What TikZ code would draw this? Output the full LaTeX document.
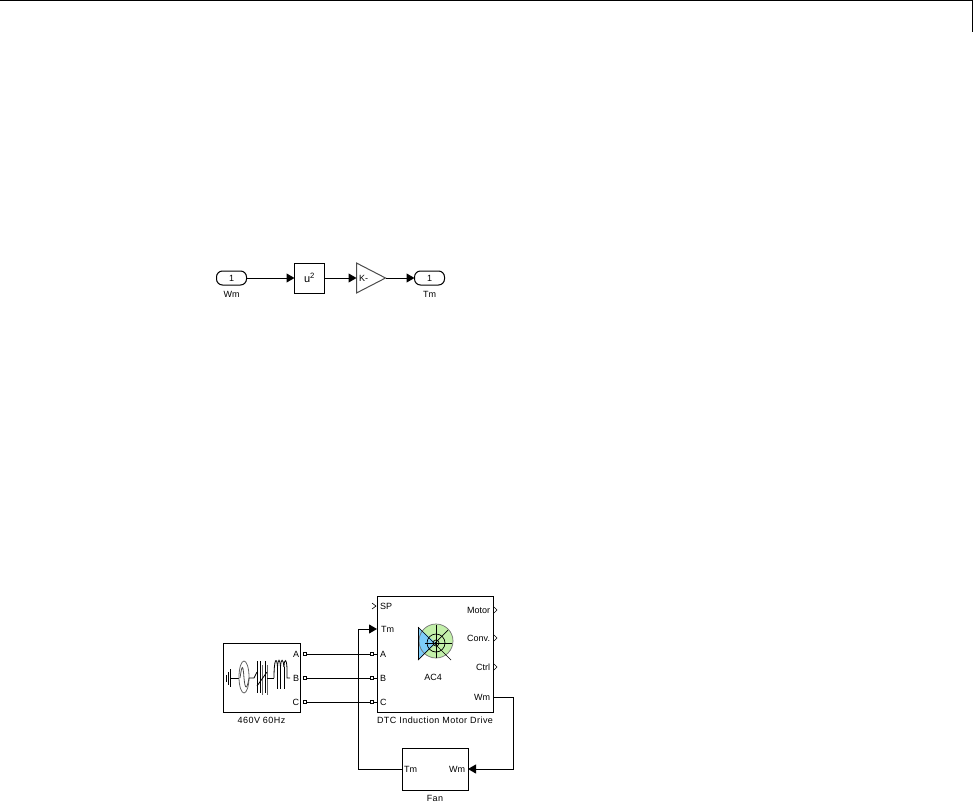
\documentclass[tikz,border=0pt]{standalone}
\usepackage{fontspec}
\setmainfont{Liberation Sans}
\usepackage{xcolor}
\usetikzlibrary{shapes.geometric, positioning, arrows.meta, calc}

\definecolor{iconblue}{RGB}{125,205,250}
\definecolor{icongreen}{RGB}{195,240,170}

\begin{document}
\begin{tikzpicture}[
  x=1pt, y=-1pt,
  font=\fontsize{9}{10}\selectfont,
  line width=1pt,
  >={Triangle[length=8pt,width=9pt]},
  block/.style={draw, inner sep=0pt, outer sep=0pt},
  port/.style={draw, rounded corners=6pt, inner sep=0pt, outer sep=0pt, minimum width=30pt, minimum height=14pt},
  gainblock/.style={draw, isosceles triangle, isosceles triangle stretches, inner sep=0pt, outer sep=0pt, minimum width=30pt, minimum height=29pt, draw=black!70},
  term/.style={draw, inner sep=0pt, outer sep=0pt, minimum size=3pt},
  lbl/.style={inner sep=0pt, outer sep=0pt},
  spaced/.style={lbl, font=\fontsize{9}{10}\selectfont\addfontfeature{LetterSpace=5}},
  open/.style={line width=0.6pt}
]
  \useasboundingbox (0,0) rectangle (973,805);

  \draw (0,0.5) -- (972.5,0.5) -- (972.5,32);

  % top model
  \node[port] (wmin) at (231.5,278) {1};
  \node[block, minimum size=30pt, right=48pt of wmin] (square) {\fontsize{11}{12}\selectfont u\textsuperscript{2}};
  \node[gainblock, right=32pt of square] (gain) {};
  \node[port, right=29pt of gain] (tmout) {1};
  \node[lbl, below=6pt of wmin] (wmlbl) {Wm};
  \node[lbl, below=6pt of tmout] (tmlbl) {Tm};
  \node[lbl, anchor=west] (gainlbl) at (359,278) {K-};

  \draw[->] (wmin) -- (square);
  \draw[->] (square) -- (gain.west);
  \draw[->] (gain.east) -- (tmout);

  % bottom model
  \node[block, minimum width=77pt, minimum height=69pt] (source) at (261.5,677.5) {};
  \node[block, minimum width=116pt, minimum height=116pt] (drive) at (435,654) {};
  \node[block, minimum width=66pt, minimum height=42pt] (fan) at (435,769) {};
  \node[spaced, below=5pt of source] (sourcelbl) {460V 60Hz};
  \node[spaced, below=5pt of drive] (drivelbl) {DTC Induction Motor Drive};
  \node[spaced, below=5pt of fan] (fanlbl) {Fan};

  \foreach \name/\y in {A/654, B/678, C/702} {
    \node[lbl, anchor=east] (src\name lbl) at (299,\y) {\name};
    \node[term] (src\name) at (305,\y) {};
    \node[term] (drv\name) at (372,\y) {};
    \node[lbl, anchor=west] (drv\name lbl) at (380,\y) {\name};
    \draw (src\name) -- (drv\name);
    \draw (drv\name) -- (drv\name -| drive.west);
  }

  \node[lbl, anchor=west] (splbl) at (380,606) {SP};
  \node[lbl, anchor=west] (tmdrv) at (381,629) {Tm};
  \node[lbl, anchor=east] (motorlbl) at (490,610) {Motor};
  \node[lbl, anchor=east] (convlbl) at (490,638) {Conv.};
  \node[lbl, anchor=east] (ctrllbl) at (490,667) {Ctrl};
  \node[lbl, anchor=east] (wmdrv) at (490,697) {Wm};
  \node[lbl] (aclbl) at (433,677) {AC4};
  \node[lbl, anchor=west] (tmfan) at (404,769) {Tm};
  \node[lbl, anchor=east] (wmfan) at (465,769) {Wm};

  \coordinate (tmin) at (drive.west |- tmdrv);
  \coordinate (wmout) at (drive.east |- wmdrv);
  \coordinate (wmfanin) at (fan.east);
  \draw[->] (fan.west) -- (358,769) -- (358,629) -- (tmin);
  \draw[->] (wmout) -- (513,697) -- (513,769) -- (wmfanin);

  \draw[open] (372,603) -- (376,606) -- (372,609);
  \foreach \y in {610, 638, 667} {
    \draw[open] (494,\y-3) -- (497,\y) -- (494,\y+3);
  }

  % drive icon
  \fill[icongreen] (436,641) circle[radius=17pt];
  \fill[iconblue] (418,627) -- (436,643) -- (418,660) -- cycle;
  \begin{scope}[line width=0.7pt]
    \draw[black!55] (436,641) circle[radius=17pt];
    \draw (436,643) circle[radius=9pt];
    \draw (436,643) circle[radius=3pt];
    \draw (418,627) -- (418,660);
    \draw (418,627) -- (451,660);
    \draw (418,660) -- (448,630);
    \draw (425,643) -- (452,643);
    \draw (436,625) -- (436,658);
  \end{scope}

  % source icon
  \begin{scope}[line width=0.8pt]
    \draw (226,675) -- (226,682) (228,672) -- (228,685) (230,669) -- (230,687);
    \draw (230,678) -- (239,678);
    \draw[black!60] (244,677) ellipse[x radius=5pt, y radius=16pt];
    \draw[black!70] (240,678) .. controls (242,664) and (243,664) .. (244,678) .. controls (245,690) and (247,690) .. (249,678);
    \draw (249,678) -- (254,678) -- (257,672);
    \foreach \x in {257,260,265} {
      \draw (\x,661) -- (\x,693);
    }
    \draw[black!60] (262.5,665) -- (262.5,695) (267,665) -- (267,695);
    \draw (257,686) -- (267,672);
    \draw (267,678) -- (274,678);
    \draw (274,678) .. controls (274,657) and (277,657) .. (277.5,667);
    \draw (277.5,667) .. controls (278,658) and (280,658) .. (280.5,667);
    \draw (280.5,667) .. controls (281,658) and (283,658) .. (284,667);
    \draw (284,667) .. controls (284,658) and (287,658) .. (287,670) -- (287,678) -- (290,678);
    \foreach \x in {277.5,280.5,284} {
      \draw (\x,667) -- (\x,689);
    }
  \end{scope}
\end{tikzpicture}
\end{document}
